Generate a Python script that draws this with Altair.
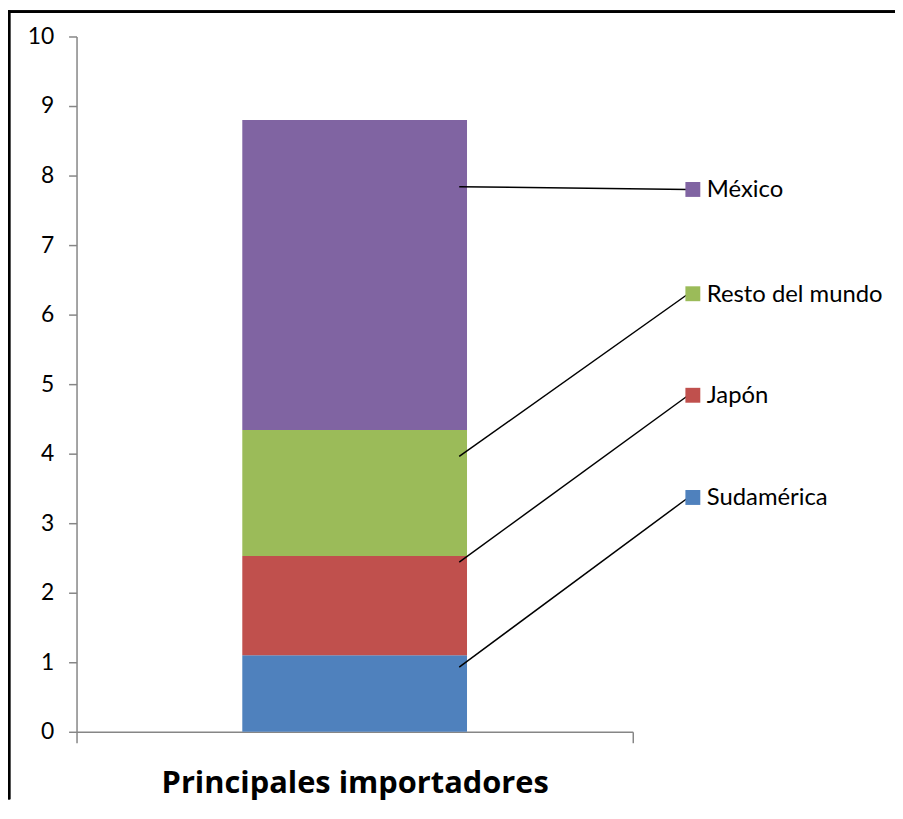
import altair as alt
import pandas as pd

# ---- data ----
categoria = "Principales importadores"
series = ["Sudamérica", "Japón", "Resto del mundo", "México"]
valores = [1.10, 1.43, 1.81, 4.46]
colores = ["#4F81BD", "#C0504D", "#9BBB59", "#8064A2"]
y_ticks = list(range(11))

# leader-line anchors (value on bar) and label positions (value on axis)
ancla_y = [0.93, 2.44, 3.96, 7.84]
etiqueta_y = [3.37, 4.84, 6.30, 7.80]

W, H = 560, 700
PAD = {"left": 69, "top": 26, "right": 264, "bottom": 68}
FONT = "Lato"

df = pd.DataFrame({
    "cat": [categoria] * len(series),
    "serie": series,
    "valor": valores,
    "orden": list(range(len(series))),
})

ann = pd.DataFrame({
    "serie": series,
    "x0": [0.688] * 4,
    "x1": [1.100] * 4,
    "xs": [1.108] * 4,
    "y0": ancla_y,
    "y1": etiqueta_y,
})

color = alt.Color("serie:N", scale=alt.Scale(domain=series, range=colores), legend=None)
yscale = alt.Scale(domain=[0, 10], nice=False)
yaxis = alt.Axis(values=y_ticks, format="d", grid=False, tickSize=8, title=None,
                 labelFont=FONT, labelFontSize=23, labelPadding=15, labelColor="black",
                 domainColor="#868686", domainWidth=1.5, tickColor="#868686", tickWidth=1.5)

bars = alt.Chart(df).mark_bar(width=alt.RelativeBandSize(0.404)).encode(
    x=alt.X("cat:N", title=None,
            scale=alt.Scale(paddingInner=0, paddingOuter=0),
            axis=alt.Axis(tickBand="extent", tickSize=11, labelAngle=0, grid=False,
                          labelFont="Open Sans", labelFontSize=31, labelFontWeight="bold",
                          labelLimit=1000, labelPadding=26, labelColor="black",
                          domainColor="#868686", domainWidth=1.5, tickColor="#868686",
                          tickWidth=1.5)),
    y=alt.Y("valor:Q", stack="zero", scale=yscale, axis=yaxis),
    color=color,
    order=alt.Order("orden:Q"),
)

xq = alt.Scale(domain=[0, 1], nice=False, zero=False)

lines = alt.Chart(ann).mark_rule(color="black", strokeWidth=1.5, clip=False).encode(
    x=alt.X("x0:Q", scale=xq, axis=None),
    x2="x1:Q",
    y=alt.Y("y0:Q", scale=yscale, axis=yaxis),
    y2="y1:Q",
)

squares = alt.Chart(ann).mark_square(size=225, opacity=1, clip=False).encode(
    x=alt.X("xs:Q", scale=xq, axis=None),
    y=alt.Y("y1:Q", scale=yscale, axis=yaxis),
    color=color,
)

labels = alt.Chart(ann).mark_text(align="left", baseline="middle", dx=14, dy=1,
                                  font=FONT, fontSize=24, color="black", clip=False).encode(
    x=alt.X("xs:Q", scale=xq, axis=None),
    y=alt.Y("y1:Q", scale=yscale, axis=yaxis),
    text="serie:N",
)

frame_top = alt.Chart(ann).mark_rule(color="black", strokeWidth=2.5, clip=False).encode(
    x=alt.value(-PAD["left"]), x2=alt.value(W + PAD["right"]), y=alt.value(-PAD["top"] + 1),
)
frame_left = alt.Chart(ann).mark_rule(color="black", strokeWidth=2.5, clip=False).encode(
    x=alt.value(-PAD["left"] + 1), y=alt.value(-PAD["top"]), y2=alt.value(H + PAD["bottom"]),
)

chart = alt.layer(bars, lines, squares, labels, frame_top, frame_left).resolve_scale(
    x="independent"
).properties(
    width=W, height=H,
    background="white",
    autosize=alt.AutoSizeParams(type="none"),
    padding=PAD,
).configure_view(strokeWidth=0, stroke="transparent")

chart.save("out.html", embed_options={"renderer": "svg", "actions": False})
